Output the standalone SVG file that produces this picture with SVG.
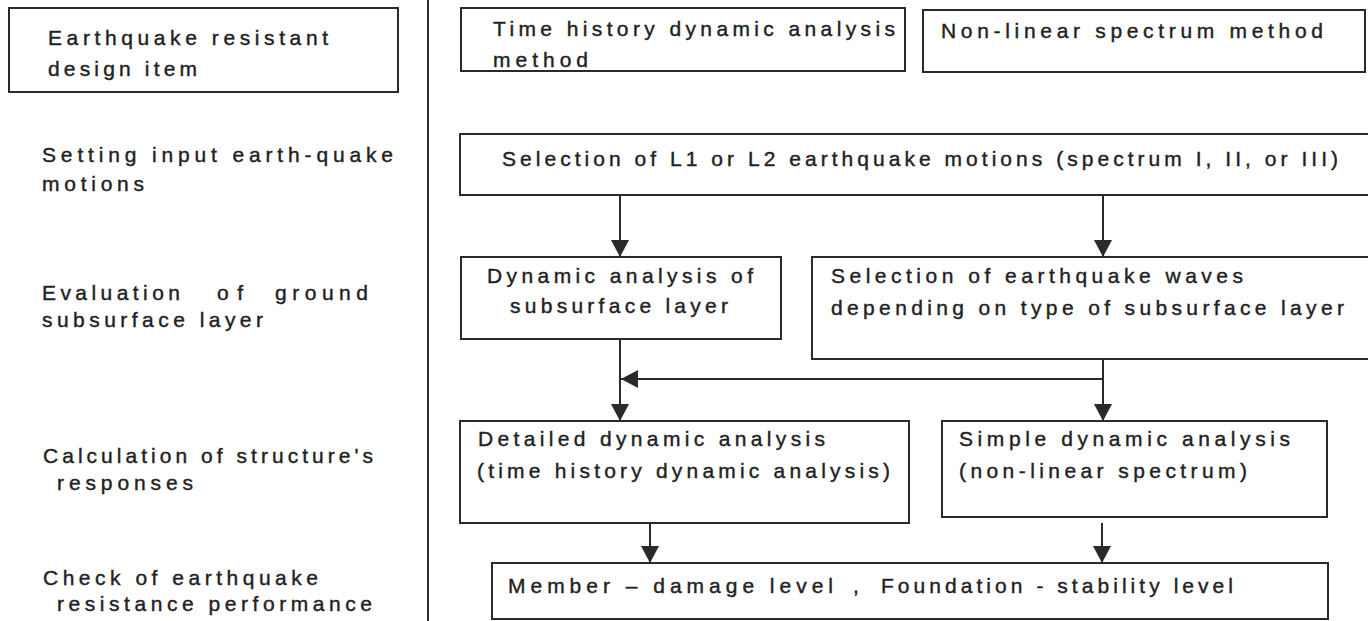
<svg xmlns="http://www.w3.org/2000/svg" width="1368" height="621" viewBox="0 0 1368 621">
<defs>
<style>
.box{fill:#fff;stroke:#2a2a2a;stroke-width:2}
.t{font-family:"Liberation Sans",Arial,sans-serif;font-size:21px;fill:#222;stroke:#222;stroke-width:0.4}
.c{fill:none;stroke:#2a2a2a;stroke-width:2}
</style>
<marker id="ah" viewBox="0 0 17 20" markerWidth="17" markerHeight="20" refX="17" refY="10" orient="auto" markerUnits="userSpaceOnUse">
<path d="M0,1 L17,10 L0,19 z" fill="#2a2a2a"/>
</marker>
</defs>
<rect width="1368" height="621" fill="#fff"/>

<g id="divider"><line x1="428" y1="0" x2="428" y2="621" class="c"/></g>

<g id="labels">
<g id="label-design-item">
<rect class="box" x="9" y="8" width="389" height="84"/>
<text class="t" x="48" y="45" textLength="280" lengthAdjust="spacing">Earthquake resistant</text>
<text class="t" x="48" y="76" textLength="149" lengthAdjust="spacing">design item</text>
</g>
<g id="label-input">
<text class="t" x="42" y="162" textLength="351" lengthAdjust="spacing">Setting input earth-quake</text>
<text class="t" x="42" y="191" textLength="102" lengthAdjust="spacing">motions</text>
</g>
<g id="label-ground">
<text class="t" x="42" y="300" textLength="138" lengthAdjust="spacing">Evaluation</text>
<text class="t" x="217" y="300" textLength="26" lengthAdjust="spacing">of</text>
<text class="t" x="275" y="300" textLength="93" lengthAdjust="spacing">ground</text>
<text class="t" x="42" y="327" textLength="221" lengthAdjust="spacing">subsurface layer</text>
</g>
<g id="label-response">
<text class="t" x="43" y="463" textLength="330" lengthAdjust="spacing">Calculation of structure's</text>
<text class="t" x="57" y="490" textLength="136" lengthAdjust="spacing">responses</text>
</g>
<g id="label-check">
<text class="t" x="43" y="585" textLength="275" lengthAdjust="spacing">Check of earthquake</text>
<text class="t" x="57" y="611" textLength="315" lengthAdjust="spacing">resistance performance</text>
</g>
</g>

<g id="connectors">
<line class="c" x1="620" y1="194" x2="620" y2="257" marker-end="url(#ah)"/>
<line class="c" x1="1103" y1="196" x2="1103" y2="257" marker-end="url(#ah)"/>
<line class="c" x1="620" y1="339" x2="620" y2="421" marker-end="url(#ah)"/>
<line class="c" x1="1103" y1="359" x2="1103" y2="421" marker-end="url(#ah)"/>
<line class="c" x1="1103" y1="379" x2="621" y2="379" marker-end="url(#ah)" stroke-width="1.5"/>
<line class="c" x1="650" y1="523" x2="650" y2="563" marker-end="url(#ah)"/>
<line class="c" x1="1102" y1="523" x2="1102" y2="563" marker-end="url(#ah)" stroke-width="1.5"/>
</g>

<g id="node-time-history">
<rect class="box" x="461" y="8" width="444" height="63"/>
<text class="t" x="493" y="36" textLength="402" lengthAdjust="spacing">Time history dynamic analysis</text>
<text class="t" x="493" y="67" textLength="95" lengthAdjust="spacing">method</text>
</g>
<g id="node-nonlinear">
<rect class="box" x="923" y="10" width="442" height="62"/>
<text class="t" x="941" y="38" textLength="382" lengthAdjust="spacing">Non-linear spectrum method</text>
</g>
<g id="node-selection-l1l2">
<rect class="box" x="460" y="134" width="920" height="61"/>
<text class="t" x="502" y="166" textLength="836" lengthAdjust="spacing">Selection of L1 or L2 earthquake motions (spectrum I, II, or III)</text>
</g>
<g id="node-dynamic-subsurface">
<rect class="box" x="461" y="257" width="320" height="82"/>
<text class="t" x="487" y="283" textLength="266" lengthAdjust="spacing">Dynamic analysis of</text>
<text class="t" x="510" y="313" textLength="218" lengthAdjust="spacing">subsurface layer</text>
</g>
<g id="node-selection-waves">
<rect class="box" x="812" y="257" width="570" height="102"/>
<text class="t" x="831" y="283" textLength="412" lengthAdjust="spacing">Selection of earthquake waves</text>
<text class="t" x="831" y="315" textLength="513" lengthAdjust="spacing">depending on type of subsurface layer</text>
</g>
<g id="node-detailed">
<rect class="box" x="460" y="421" width="449" height="102"/>
<text class="t" x="478" y="446" textLength="347" lengthAdjust="spacing">Detailed dynamic analysis</text>
<text class="t" x="477" y="478" textLength="413" lengthAdjust="spacing">(time history dynamic analysis)</text>
</g>
<g id="node-simple">
<rect class="box" x="942" y="421" width="385" height="96"/>
<text class="t" x="959" y="446" textLength="331" lengthAdjust="spacing">Simple dynamic analysis</text>
<text class="t" x="959" y="478" textLength="288" lengthAdjust="spacing">(non-linear spectrum)</text>
</g>
<g id="node-check">
<rect class="box" x="492" y="563" width="836" height="56"/>
<text class="t" x="508" y="593" textLength="325" lengthAdjust="spacing">Member – damage level</text>
<text class="t" x="853" y="593">,</text>
<text class="t" x="881" y="593" textLength="352" lengthAdjust="spacing">Foundation - stability level</text>
</g>
</svg>
